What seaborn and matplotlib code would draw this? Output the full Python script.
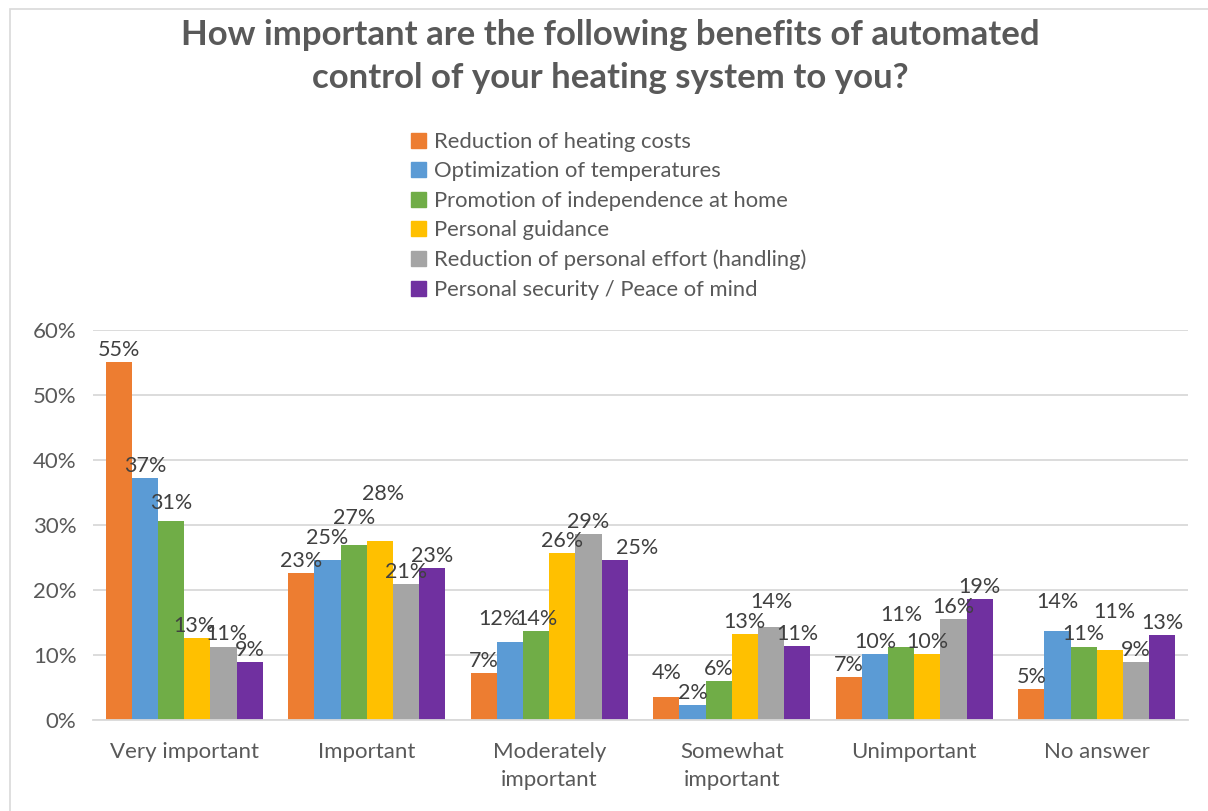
import matplotlib
matplotlib.use("Agg")
import matplotlib.pyplot as plt
import matplotlib.patches as mpatches
import seaborn as sns
import pandas as pd

# Survey answers and the share of respondents (%) for each benefit
categories = ["Very important", "Important", "Moderately\nimportant",
              "Somewhat\nimportant", "Unimportant", "No answer"]
benefits = ["Reduction of heating costs",
            "Optimization of temperatures",
            "Promotion of independence at home",
            "Personal guidance",
            "Reduction of personal effort (handling)",
            "Personal security / Peace of mind"]

heating_costs = [55.1, 22.6, 7.2, 3.5, 6.6, 4.8]
temperatures = [37.2, 24.6, 12.0, 2.3, 10.2, 13.7]
independence = [30.6, 26.9, 13.7, 6.0, 11.3, 11.3]
guidance = [12.6, 27.5, 25.7, 13.2, 10.2, 10.7]
effort = [11.3, 20.9, 28.6, 14.3, 15.5, 8.9]
security = [8.9, 23.4, 24.6, 11.4, 18.6, 13.1]

palette = ["#ED7D31", "#5B9BD5", "#70AD47", "#FFC000", "#A5A5A5", "#7030A0"]

series = [heating_costs, temperatures, independence, guidance, effort, security]
df = pd.DataFrame({
    "answer": [c for _ in benefits for c in categories],
    "benefit": [b for b in benefits for _ in categories],
    "share": [v for s in series for v in s],
})

# Offsets (dx, dy in points) for crowded value labels: (benefit index, category index)
label_nudge = {(2, 0): (0, 4), (3, 0): (-2, 0), (4, 0): (2, 0),
               (1, 1): (0, 7), (2, 1): (0, 11), (3, 1): (2, 25),
               (1, 2): (-8, 8), (5, 2): (16, 0), (0, 3): (0, 9), (4, 3): (0, 9),
               (2, 4): (0, 14), (1, 5): (0, 12), (3, 5): (3, 19)}

sns.set_theme(style="white")
plt.rcParams["font.family"] = ["Lato", "DejaVu Sans"]
text_grey = "#595959"

fig = plt.figure(figsize=(12.08, 8.11), dpi=100)
ax = fig.add_axes([0.077, 0.1122, 0.9064, 0.4809])

sns.barplot(data=df, x="answer", y="share", hue="benefit", hue_order=benefits,
            order=categories, palette=palette, width=0.86, saturation=1,
            ax=ax, legend=False, edgecolor="none", linewidth=0)

ax.set_ylim(0, 60)
ax.set_xlim(-0.5, len(categories) - 0.5)
ax.set_yticks(range(0, 61, 10))
ax.set_yticklabels([f"{t}%" for t in range(0, 61, 10)])
ax.yaxis.grid(True, color="#D9D9D9", linewidth=1.3)
ax.set_axisbelow(True)
for side in ["top", "right", "left"]:
    ax.spines[side].set_visible(False)
ax.spines["bottom"].set_color("#D9D9D9")
ax.spines["bottom"].set_linewidth(1.3)
ax.tick_params(axis="both", length=0, labelsize=16, labelcolor=text_grey)
ax.tick_params(axis="y", pad=12)
ax.tick_params(axis="x", pad=16)
for lbl in ax.get_xticklabels():
    lbl.set_linespacing(1.5)
ax.set_xlabel("")
ax.set_ylabel("")

# Value labels above each bar
for bi, container in enumerate(ax.containers):
    for ci, bar in enumerate(container):
        h = bar.get_height()
        dx, dy = label_nudge.get((bi, ci), (0, 0))
        ax.annotate(f"{round(h):d}%", (bar.get_x() + bar.get_width() / 2, h),
                    xytext=(dx, dy + 1.5), textcoords="offset points",
                    ha="center", va="bottom", fontsize=15.5, color="#404040")

# Legend in a single column between title and plot
handles = [mpatches.Patch(color=c, label=b) for b, c in zip(benefits, palette)]
fig.legend(handles=handles, loc="upper left", bbox_to_anchor=(0.333, 0.848),
           frameon=False, fontsize=15.8, labelcolor=text_grey,
           handlelength=0.68, handleheight=0.68, handletextpad=0.35,
           labelspacing=0.43, borderaxespad=0)

fig.text(0.505, 0.977,
         "How important are the following benefits of automated\n"
         "control of your heating system to you?",
         ha="center", va="top", fontsize=25, fontweight="bold",
         color=text_grey, linespacing=1.45)

# Chart area frame
fig.patches.append(mpatches.Rectangle((10 / 1208, -0.05), 1.2, 1 - 9 / 811 + 0.05,
                                      transform=fig.transFigure, fill=False,
                                      edgecolor="#D9D9D9", linewidth=1.2))

fig.savefig("out.png", dpi=100, facecolor="white")
